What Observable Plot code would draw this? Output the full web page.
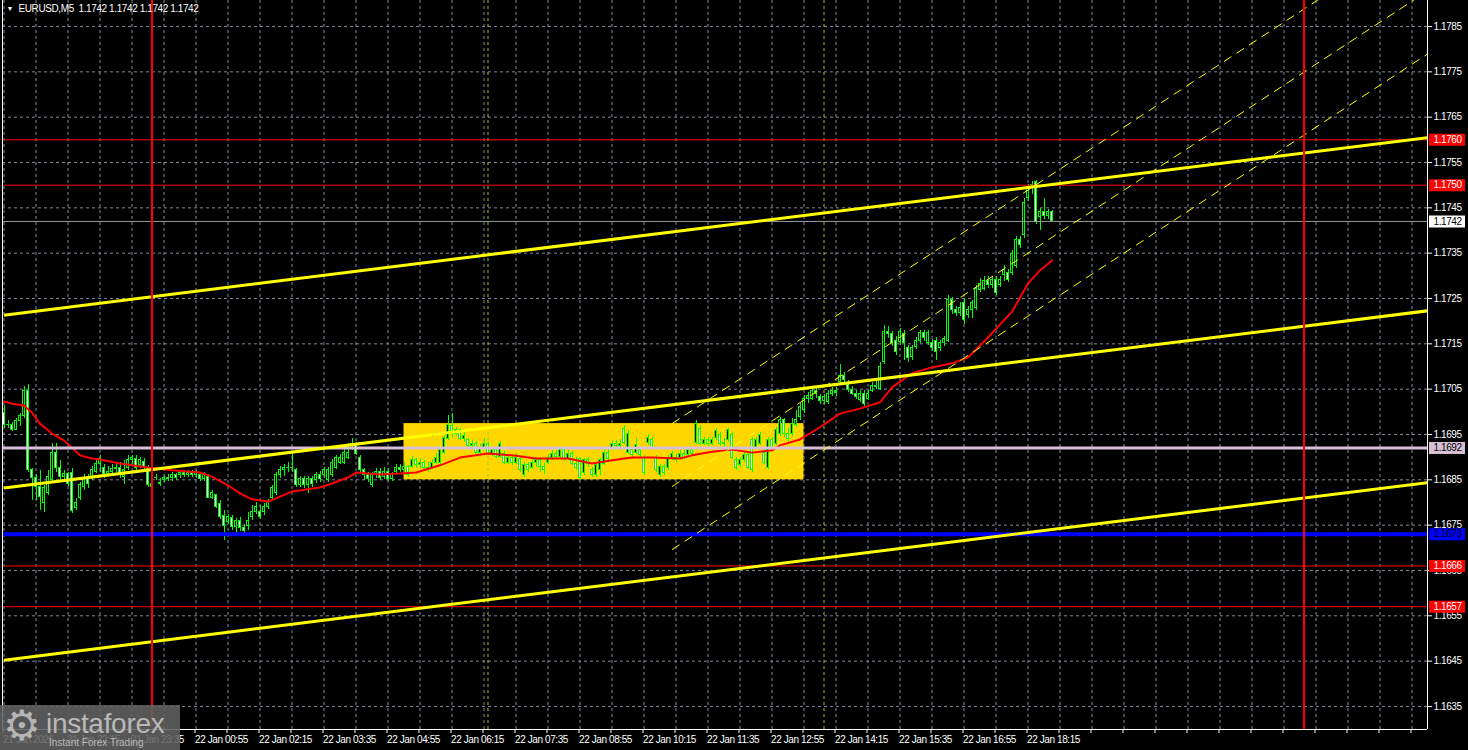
<!DOCTYPE html>
<html><head><meta charset="utf-8">
<script src="https://cdn.jsdelivr.net/npm/d3@7"></script>
<script src="https://cdn.jsdelivr.net/npm/@observablehq/plot@0.6"></script>
<style>
html,body{margin:0;padding:0;background:#000;overflow:hidden;}
#wrap{position:relative;width:1468px;height:750px;}
#chart svg text{letter-spacing:-0.4px;}
#logo{position:absolute;left:0;top:705px;width:180px;height:45px;background:rgba(98,98,98,0.88);overflow:hidden;font-family:"Liberation Sans",Arial,sans-serif;color:#b9b9b9;}
#logo .gear{position:absolute;left:3px;top:0px;font-size:42px;line-height:42px;font-family:"DejaVu Sans",sans-serif;color:#b4b4b4;}
#logo .brand{position:absolute;left:46px;top:5px;font-size:28px;line-height:28px;letter-spacing:-0.3px;}
#logo .tag{position:absolute;left:49px;top:33px;font-size:10px;line-height:10px;}
</style></head>
<body><div id="wrap"><div id="chart"></div>
<div id="logo"><span class="gear">⚙</span><span class="brand">instaforex</span><span class="tag">Instant Forex Trading</span></div></div>
<script>
// ---------- data ----------
const symbol = "EURUSD,M5";
const lastQuote = [1.1742, 1.1742, 1.1742, 1.1742];
const firstBar = "2026-01-21T20:55Z";
const barMinutes = 5;

const opens = [
1.16998,1.16970,1.16972,1.16961,1.16979,1.16990,1.17047,1.16871,1.16853,1.16835,
1.16798,1.16822,1.16849,1.16910,1.16875,1.16857,1.16862,1.16866,1.16787,1.16811,
1.16835,1.16853,1.16855,1.16868,1.16886,1.16877,1.16862,1.16868,1.16873,1.16877,
1.16857,1.16875,1.16893,1.16897,1.16882,1.16890,1.16875,1.16840,1.16853,1.16840,
1.16849,1.16855,1.16853,1.16860,1.16860,1.16866,1.16860,1.16866,1.16860,1.16860,
1.16851,1.16857,1.16811,1.16816,1.16796,1.16771,1.16756,1.16765,1.16747,1.16760,
1.16743,1.16749,1.16767,1.16780,1.16778,1.16778,1.16789,1.16809,1.16820,1.16860,
1.16871,1.16875,1.16875,1.16871,1.16838,1.16851,1.16838,1.16851,1.16849,1.16860,
1.16860,1.16849,1.16860,1.16877,1.16888,1.16888,1.16899,1.16919,1.16926,1.16899,
1.16871,1.16860,1.16838,1.16860,1.16868,1.16857,1.16868,1.16851,1.16868,1.16877,
1.16871,1.16879,1.16879,1.16893,1.16882,1.16888,1.16875,1.16877,1.16888,1.16888,
1.16910,1.16941,1.16968,1.16952,1.16959,1.16941,1.16937,1.16924,1.16930,1.16910,
1.16921,1.16928,1.16908,1.16915,1.16901,1.16908,1.16888,1.16899,1.16888,1.16897,
1.16860,1.16882,1.16877,1.16888,1.16893,1.16879,1.16888,1.16899,1.16908,1.16901,
1.16915,1.16897,1.16908,1.16886,1.16895,1.16864,1.16893,1.16871,1.16860,1.16871,
1.16886,1.16910,1.16919,1.16930,1.16924,1.16963,1.16910,1.16915,1.16910,1.16915,
1.16899,1.16932,1.16937,1.16899,1.16860,1.16879,1.16877,1.16897,1.16899,1.16899,
1.16908,1.16904,1.16915,1.16932,1.16963,1.16930,1.16937,1.16930,1.16943,1.16948,
1.16928,1.16937,1.16948,1.16893,1.16882,1.16893,1.16904,1.16937,1.16921,1.16930,
1.16910,1.16877,1.16937,1.16930,1.16952,1.16981,1.16952,1.16952,1.16970,1.16988,
1.17003,1.17029,1.17029,1.17047,1.17032,1.17023,1.17021,1.17040,1.17045,1.17065,
1.17078,1.17060,1.17049,1.17040,1.17025,1.17040,1.17029,1.17047,1.17058,1.17051,
1.17109,1.17177,1.17171,1.17157,1.17153,1.17171,1.17140,1.17120,1.17144,1.17157,
1.17173,1.17151,1.17151,1.17157,1.17140,1.17151,1.17157,1.17246,1.17224,1.17219,
1.17239,1.17213,1.17224,1.17228,1.17268,1.17272,1.17288,1.17279,1.17290,1.17279,
1.17302,1.17307,1.17307,1.17322,1.17380,1.17389,1.17471,1.17493,1.17506,1.17429,
1.17440,1.17431,1.17440];

const highs = [
1.17014,1.16981,1.16977,1.16985,1.16996,1.17056,1.17060,1.16875,1.16862,1.16871,
1.16838,1.16871,1.16930,1.16930,1.16893,1.16871,1.16866,1.16875,1.16809,1.16844,
1.16862,1.16862,1.16879,1.16895,1.16904,1.16884,1.16879,1.16884,1.16886,1.16888,
1.16893,1.16904,1.16904,1.16904,1.16899,1.16897,1.16882,1.16853,1.16862,1.16853,
1.16860,1.16862,1.16866,1.16864,1.16871,1.16871,1.16871,1.16871,1.16871,1.16864,
1.16866,1.16862,1.16827,1.16818,1.16804,1.16782,1.16774,1.16771,1.16765,1.16767,
1.16752,1.16778,1.16793,1.16800,1.16793,1.16798,1.16807,1.16838,1.16866,1.16879,
1.16884,1.16888,1.16910,1.16875,1.16857,1.16857,1.16857,1.16857,1.16866,1.16868,
1.16877,1.16877,1.16895,1.16904,1.16906,1.16917,1.16930,1.16941,1.16932,1.16904,
1.16875,1.16866,1.16866,1.16875,1.16875,1.16877,1.16875,1.16866,1.16884,1.16884,
1.16888,1.16882,1.16901,1.16897,1.16897,1.16893,1.16888,1.16895,1.16908,1.16921,
1.16952,1.16992,1.16996,1.16966,1.16963,1.16954,1.16941,1.16937,1.16935,1.16928,
1.16941,1.16932,1.16921,1.16921,1.16935,1.16912,1.16904,1.16904,1.16908,1.16901,
1.16888,1.16888,1.16895,1.16899,1.16899,1.16886,1.16906,1.16915,1.16915,1.16921,
1.16919,1.16915,1.16912,1.16899,1.16899,1.16897,1.16899,1.16877,1.16886,1.16897,
1.16919,1.16919,1.16937,1.16937,1.16939,1.16970,1.16959,1.16921,1.16941,1.16921,
1.16904,1.16950,1.16943,1.16904,1.16884,1.16884,1.16904,1.16912,1.16906,1.16915,
1.16915,1.16921,1.16921,1.16981,1.16970,1.16943,1.16943,1.16943,1.16963,1.16954,
1.16941,1.16963,1.16954,1.16899,1.16899,1.16910,1.16910,1.16943,1.16943,1.16954,
1.16917,1.16943,1.16943,1.16966,1.16988,1.16985,1.16963,1.16985,1.17003,1.17018,
1.17036,1.17043,1.17056,1.17056,1.17038,1.17038,1.17047,1.17054,1.17054,1.17104,
1.17087,1.17069,1.17056,1.17047,1.17047,1.17047,1.17047,1.17065,1.17067,1.17109,
1.17190,1.17188,1.17177,1.17166,1.17184,1.17179,1.17146,1.17146,1.17164,1.17179,
1.17179,1.17179,1.17160,1.17164,1.17157,1.17166,1.17257,1.17252,1.17232,1.17241,
1.17250,1.17232,1.17246,1.17279,1.17294,1.17299,1.17299,1.17299,1.17299,1.17299,
1.17322,1.17313,1.17356,1.17387,1.17387,1.17471,1.17501,1.17508,1.17510,1.17448,
1.17471,1.17446,1.17444];

const lows = [
1.16963,1.16963,1.16957,1.16959,1.16968,1.16985,1.16866,1.16804,1.16804,1.16782,
1.16778,1.16816,1.16844,1.16866,1.16849,1.16849,1.16835,1.16776,1.16782,1.16804,
1.16827,1.16831,1.16849,1.16864,1.16866,1.16853,1.16857,1.16862,1.16866,1.16853,
1.16840,1.16871,1.16882,1.16866,1.16875,1.16871,1.16833,1.16827,1.16849,1.16835,
1.16844,1.16846,1.16846,1.16849,1.16853,1.16855,1.16855,1.16855,1.16853,1.16846,
1.16846,1.16809,1.16807,1.16787,1.16763,1.16716,1.16752,1.16738,1.16732,1.16736,
1.16732,1.16738,1.16760,1.16774,1.16763,1.16771,1.16785,1.16804,1.16816,1.16853,
1.16857,1.16866,1.16866,1.16833,1.16833,1.16831,1.16820,1.16833,1.16842,1.16844,
1.16853,1.16844,1.16855,1.16873,1.16884,1.16884,1.16895,1.16915,1.16904,1.16866,
1.16849,1.16844,1.16833,1.16853,1.16849,1.16851,1.16846,1.16846,1.16864,1.16866,
1.16860,1.16855,1.16875,1.16875,1.16875,1.16868,1.16866,1.16873,1.16884,1.16884,
1.16906,1.16937,1.16943,1.16946,1.16937,1.16932,1.16917,1.16917,1.16906,1.16906,
1.16915,1.16904,1.16901,1.16897,1.16897,1.16884,1.16884,1.16882,1.16884,1.16866,
1.16855,1.16866,1.16873,1.16877,1.16866,1.16862,1.16884,1.16893,1.16895,1.16895,
1.16890,1.16893,1.16882,1.16871,1.16849,1.16860,1.16877,1.16855,1.16855,1.16860,
1.16882,1.16888,1.16915,1.16917,1.16915,1.16928,1.16906,1.16899,1.16906,1.16899,
1.16860,1.16926,1.16917,1.16866,1.16855,1.16860,1.16871,1.16893,1.16888,1.16895,
1.16895,1.16899,1.16904,1.16928,1.16926,1.16926,1.16924,1.16926,1.16937,1.16924,
1.16921,1.16932,1.16895,1.16871,1.16877,1.16888,1.16873,1.16866,1.16917,1.16926,
1.16884,1.16873,1.16917,1.16926,1.16946,1.16943,1.16932,1.16946,1.16966,1.16981,
1.16996,1.17018,1.17025,1.17029,1.17016,1.17016,1.17016,1.17034,1.17034,1.17058,
1.17065,1.17043,1.17036,1.17027,1.17021,1.17012,1.17025,1.17043,1.17049,1.17047,
1.17104,1.17162,1.17144,1.17124,1.17146,1.17113,1.17109,1.17113,1.17138,1.17151,
1.17155,1.17146,1.17133,1.17113,1.17133,1.17144,1.17153,1.17215,1.17210,1.17210,
1.17193,1.17206,1.17206,1.17224,1.17263,1.17268,1.17272,1.17272,1.17257,1.17274,
1.17288,1.17285,1.17300,1.17316,1.17360,1.17382,1.17464,1.17479,1.17413,1.17400,
1.17424,1.17424,1.17420];

const closes = [
1.16970,1.16972,1.16961,1.16979,1.16990,1.17047,1.16871,1.16853,1.16835,1.16813,
1.16831,1.16857,1.16910,1.16875,1.16857,1.16862,1.16840,1.16782,1.16798,1.16838,
1.16853,1.16840,1.16871,1.16886,1.16897,1.16862,1.16868,1.16873,1.16877,1.16860,
1.16871,1.16893,1.16899,1.16875,1.16893,1.16879,1.16838,1.16835,1.16855,1.16842,
1.16855,1.16853,1.16860,1.16853,1.16866,1.16860,1.16866,1.16860,1.16864,1.16851,
1.16860,1.16811,1.16820,1.16791,1.16767,1.16749,1.16767,1.16747,1.16760,1.16743,
1.16738,1.16760,1.16778,1.16791,1.16769,1.16791,1.16800,1.16831,1.16860,1.16871,
1.16875,1.16877,1.16877,1.16838,1.16851,1.16838,1.16851,1.16840,1.16860,1.16851,
1.16871,1.16871,1.16888,1.16899,1.16899,1.16910,1.16910,1.16930,1.16908,1.16871,
1.16860,1.16851,1.16860,1.16868,1.16853,1.16868,1.16851,1.16860,1.16877,1.16871,
1.16879,1.16860,1.16893,1.16882,1.16888,1.16875,1.16877,1.16888,1.16899,1.16915,
1.16943,1.16970,1.16952,1.16959,1.16941,1.16946,1.16924,1.16930,1.16910,1.16921,
1.16928,1.16908,1.16915,1.16901,1.16928,1.16888,1.16899,1.16888,1.16899,1.16871,
1.16882,1.16871,1.16888,1.16893,1.16879,1.16871,1.16899,1.16908,1.16901,1.16915,
1.16895,1.16908,1.16886,1.16875,1.16853,1.16893,1.16884,1.16860,1.16882,1.16893,
1.16910,1.16897,1.16930,1.16924,1.16930,1.16932,1.16952,1.16904,1.16926,1.16904,
1.16864,1.16943,1.16921,1.16871,1.16879,1.16864,1.16899,1.16908,1.16893,1.16908,
1.16899,1.16915,1.16908,1.16974,1.16930,1.16937,1.16930,1.16937,1.16957,1.16928,
1.16932,1.16959,1.16899,1.16877,1.16893,1.16904,1.16877,1.16871,1.16937,1.16948,
1.16888,1.16937,1.16921,1.16959,1.16981,1.16952,1.16941,1.16974,1.16981,1.17010,
1.17029,1.17034,1.17047,1.17040,1.17023,1.17032,1.17040,1.17045,1.17043,1.17080,
1.17071,1.17049,1.17040,1.17032,1.17040,1.17018,1.17040,1.17058,1.17056,1.17098,
1.17177,1.17171,1.17151,1.17131,1.17177,1.17151,1.17118,1.17140,1.17157,1.17173,
1.17162,1.17173,1.17140,1.17131,1.17151,1.17160,1.17246,1.17224,1.17219,1.17230,
1.17202,1.17224,1.17239,1.17272,1.17283,1.17288,1.17279,1.17290,1.17263,1.17290,
1.17313,1.17291,1.17349,1.17380,1.17369,1.17460,1.17493,1.17501,1.17418,1.17440,
1.17431,1.17440,1.17422];

// moving average (red), read at bar indexes
const maBars = [0,2,5,7,9,12,15,17,19,22,24,29,36,42,49,52,56,59,62,66,69,72,76,79,82,86,88,91,94,99,103,109,114,121,127,133,141,147,152,157,162,169,172,177,182,187,192,194,199,204,209,214,219,222,227,232,237,241,246,252,256,259,262];
const maValues = [1.17023,1.17018,1.17014,1.16998,1.16974,1.16952,1.16937,1.16921,1.16904,1.16897,1.16895,1.16886,1.16877,1.16871,1.16866,1.16857,1.16838,1.16820,1.16807,1.16802,1.16813,1.16824,1.16829,1.16833,1.16842,1.16855,1.16866,1.16864,1.16862,1.16864,1.16866,1.16882,1.16899,1.16908,1.16904,1.16897,1.16897,1.16886,1.16893,1.16899,1.16899,1.16897,1.16904,1.16912,1.16917,1.16910,1.16915,1.16926,1.16939,1.16966,1.16996,1.17007,1.17021,1.17054,1.17085,1.17098,1.17107,1.17120,1.17164,1.17221,1.17283,1.17312,1.17334];

// price axis ticks
const yTicks = [1.1635,1.1645,1.1655,1.1665,1.1675,1.1685,1.1695,1.1705,1.1715,1.1725,1.1735,1.1745,1.1755,1.1765,1.1775,1.1785];
// time axis labels
const tickTimes = ["2026-01-21T20:55Z","2026-01-21T22:15Z","2026-01-21T23:35Z","2026-01-22T00:55Z","2026-01-22T02:15Z","2026-01-22T03:35Z","2026-01-22T04:55Z","2026-01-22T06:15Z","2026-01-22T07:35Z","2026-01-22T08:55Z","2026-01-22T10:15Z","2026-01-22T11:35Z","2026-01-22T12:55Z","2026-01-22T14:15Z","2026-01-22T15:35Z","2026-01-22T16:55Z","2026-01-22T18:15Z"];
const tickLabels = ["21 Jan 2026","21 Jan 22:15","21 Jan 23:35","22 Jan 00:55","22 Jan 02:15","22 Jan 03:35","22 Jan 04:55","22 Jan 06:15","22 Jan 07:35","22 Jan 08:55","22 Jan 10:15","22 Jan 11:35","22 Jan 12:55","22 Jan 14:15","22 Jan 15:35","22 Jan 16:55","22 Jan 18:15"];

// levels
const redLevels = [1.1760, 1.1750, 1.1666, 1.1657];
const supportLevel = 1.1673;
const pivotLevel = 1.1692;
const bidPrice = 1.1742;

// day separators and session markers
const dayBreaks = ["2026-01-22T00:00Z","2026-01-23T00:00Z"];
const sessionOpens = ["2026-01-22T07:00Z","2026-01-22T14:00Z"];

// flat range rectangle
const boxTimes = ["2026-01-22T05:15Z","2026-01-22T13:35Z"];
const boxPrices = [1.16850, 1.16974];

// trend lines (start time, end time, start price, end price)
const trendStart = "2026-01-21T20:55Z", trendEnd = "2026-01-23T02:35Z";
const trendStartPrices = [1.17213, 1.16832, 1.16452];
const trendEndPrices   = [1.17605, 1.17223, 1.16844];

// regression channel
const regStart = "2026-01-22T10:50Z", regEnd = "2026-01-23T02:35Z";
const regMidPrices = [1.16835, 1.17929];
const regOffset = 0.00139;

// ---------- build ----------
const barMs = barMinutes * 60000;
const t0 = Date.parse(firstBar);
const pxMs = barMs / 4; // 4 px per bar at this chart zoom
const bars = opens.map((o, i) => ({
  t: new Date(t0 + i * barMs), o, c: closes[i],
  h: Math.max(highs[i], o, closes[i]), l: Math.min(lows[i], o, closes[i])
}));
const ma = maBars.map((b, i) => ({t: new Date(t0 + b * barMs), v: maValues[i]}));
const xStart = new Date(t0 - 0.375 * barMs), xEnd = new Date(t0 + 355.875 * barMs);
const yDomain = [1.162992, 1.179074];
const gridTimes = d3.range(0, 45).map(n => new Date(t0 + n * 8 * barMs));
const labelMap = new Map(tickTimes.map((s, i) => [Date.parse(s), tickLabels[i]]));
const trendLines = trendStartPrices.map((p, i) => ({t1: new Date(trendStart), t2: new Date(trendEnd), p1: p, p2: trendEndPrices[i]}));
const regLines = [-1, 0, 1].map(k => ({t1: new Date(regStart), t2: new Date(regEnd), p1: regMidPrices[0] + k * regOffset, p2: regMidPrices[1] + k * regOffset}));
const fmt = d3.format(".4f");
const tagBoxes = [
  ...redLevels.map(v => ({v, bg: "#ff0000", fg: "#ffffff"})),
  {v: bidPrice, bg: "#ffffff", fg: "#000000"},
  {v: pivotLevel, bg: "#d8bfd8", fg: "#000000"},
  {v: supportLevel, bg: "#0000ff", fg: "#000000"}
];
const tagX1 = new Date(+xEnd + 2 * pxMs), tagX2 = new Date(+xEnd + 38 * pxMs), tagXT = new Date(+xEnd + 6 * pxMs);
const header = `${symbol}\u00a0 ${lastQuote.map(fmt).join(" ")}`;
const gridColor = "#7f8a98";
const lime = "#00ff00";

const chart = Plot.plot({
  width: 1468, height: 750,
  marginLeft: 2, marginRight: 41, marginTop: 0, marginBottom: 21,
  style: {background: "#000", color: "#fff", fontFamily: "'Liberation Sans', Arial, sans-serif", fontSize: "10px"},
  x: {type: "utc", domain: [xStart, xEnd]},
  y: {domain: yDomain},
  marks: [
    Plot.gridY(yTicks, {stroke: gridColor, strokeOpacity: 1, strokeDasharray: "3,3"}),
    Plot.gridX(gridTimes, {stroke: gridColor, strokeOpacity: 1, strokeDasharray: "3,3"}),
    Plot.rect([0], {x1: () => new Date(boxTimes[0]), x2: () => new Date(boxTimes[1]), y1: () => boxPrices[0], y2: () => boxPrices[1], fill: "#ffd700"}),
    Plot.ruleX(sessionOpens.map(s => new Date(s)), {stroke: "#9acd32", strokeDasharray: "3,3"}),
    Plot.ruleX(bars, {x: "t", y1: "l", y2: "h", stroke: lime, strokeWidth: 1, shapeRendering: "crispEdges"}),
    Plot.rect(bars, {x1: d => new Date(+d.t - pxMs), x2: d => new Date(+d.t + pxMs), y1: "o", y2: "c",
      fill: d => d.c < d.o ? "#ffffff" : "#000000", stroke: lime, strokeWidth: 1, shapeRendering: "crispEdges"}),
    Plot.ruleY(bars.filter(d => Math.abs(d.o - d.c) < 0.00003), {y: "c", x1: d => new Date(+d.t - 1.5 * pxMs), x2: d => new Date(+d.t + 1.5 * pxMs), stroke: lime, shapeRendering: "crispEdges"}),
    Plot.line(ma, {x: "t", y: "v", stroke: "#ff0000", strokeWidth: 2}),
    Plot.ruleY([pivotLevel], {stroke: "#d8bfd8", strokeWidth: 3}),
    Plot.ruleY([supportLevel], {stroke: "#0000ff", strokeWidth: 4}),
    Plot.ruleY(redLevels, {stroke: "#ff0000", strokeWidth: 1}),
    Plot.ruleY([bidPrice], {stroke: "#9a9a9a", strokeWidth: 1}),
    Plot.link(trendLines, {x1: "t1", x2: "t2", y1: "p1", y2: "p2", stroke: "#ffff00", strokeWidth: 3, clip: true}),
    Plot.link(regLines, {x1: "t1", x2: "t2", y1: "p1", y2: "p2", stroke: "#ffff00", strokeWidth: 1, strokeDasharray: "9,6", clip: true}),
    Plot.ruleX(dayBreaks.map(s => new Date(s)), {stroke: "#ff0000", strokeWidth: 2}),
    Plot.ruleX([xStart, xEnd], {stroke: "#fff", strokeWidth: 1}),
    Plot.ruleY([yDomain[0]], {stroke: "#fff", strokeWidth: 1}),
    Plot.axisY({anchor: "right", ticks: yTicks, tickFormat: fmt, tickSize: 4, tickPadding: 2, color: "#fff", fontSize: 10}),
    Plot.axisX({anchor: "bottom", ticks: gridTimes, tickFormat: d => labelMap.get(+d) ?? "", tickSize: 4, tickPadding: 2, textAnchor: "start", dx: -1, color: "#fff", fontSize: 10}),
    Plot.ruleY(tagBoxes, {y: "v", x1: () => tagX1, x2: () => tagX2, stroke: "bg", strokeWidth: 12}),
    Plot.text(tagBoxes, {y: "v", x: () => tagXT, text: d => fmt(d.v), fill: "fg", textAnchor: "start", fontSize: 10}),
    Plot.text(["▼"], {frameAnchor: "top-left", dx: 4, dy: 6, fill: "#fff", fontSize: 7}),
    Plot.text([header], {frameAnchor: "top-left", dx: 16, dy: 4, fill: "#fff", fontSize: 10})
  ]
});
document.getElementById("chart").appendChild(chart);
</script>
</body></html>
